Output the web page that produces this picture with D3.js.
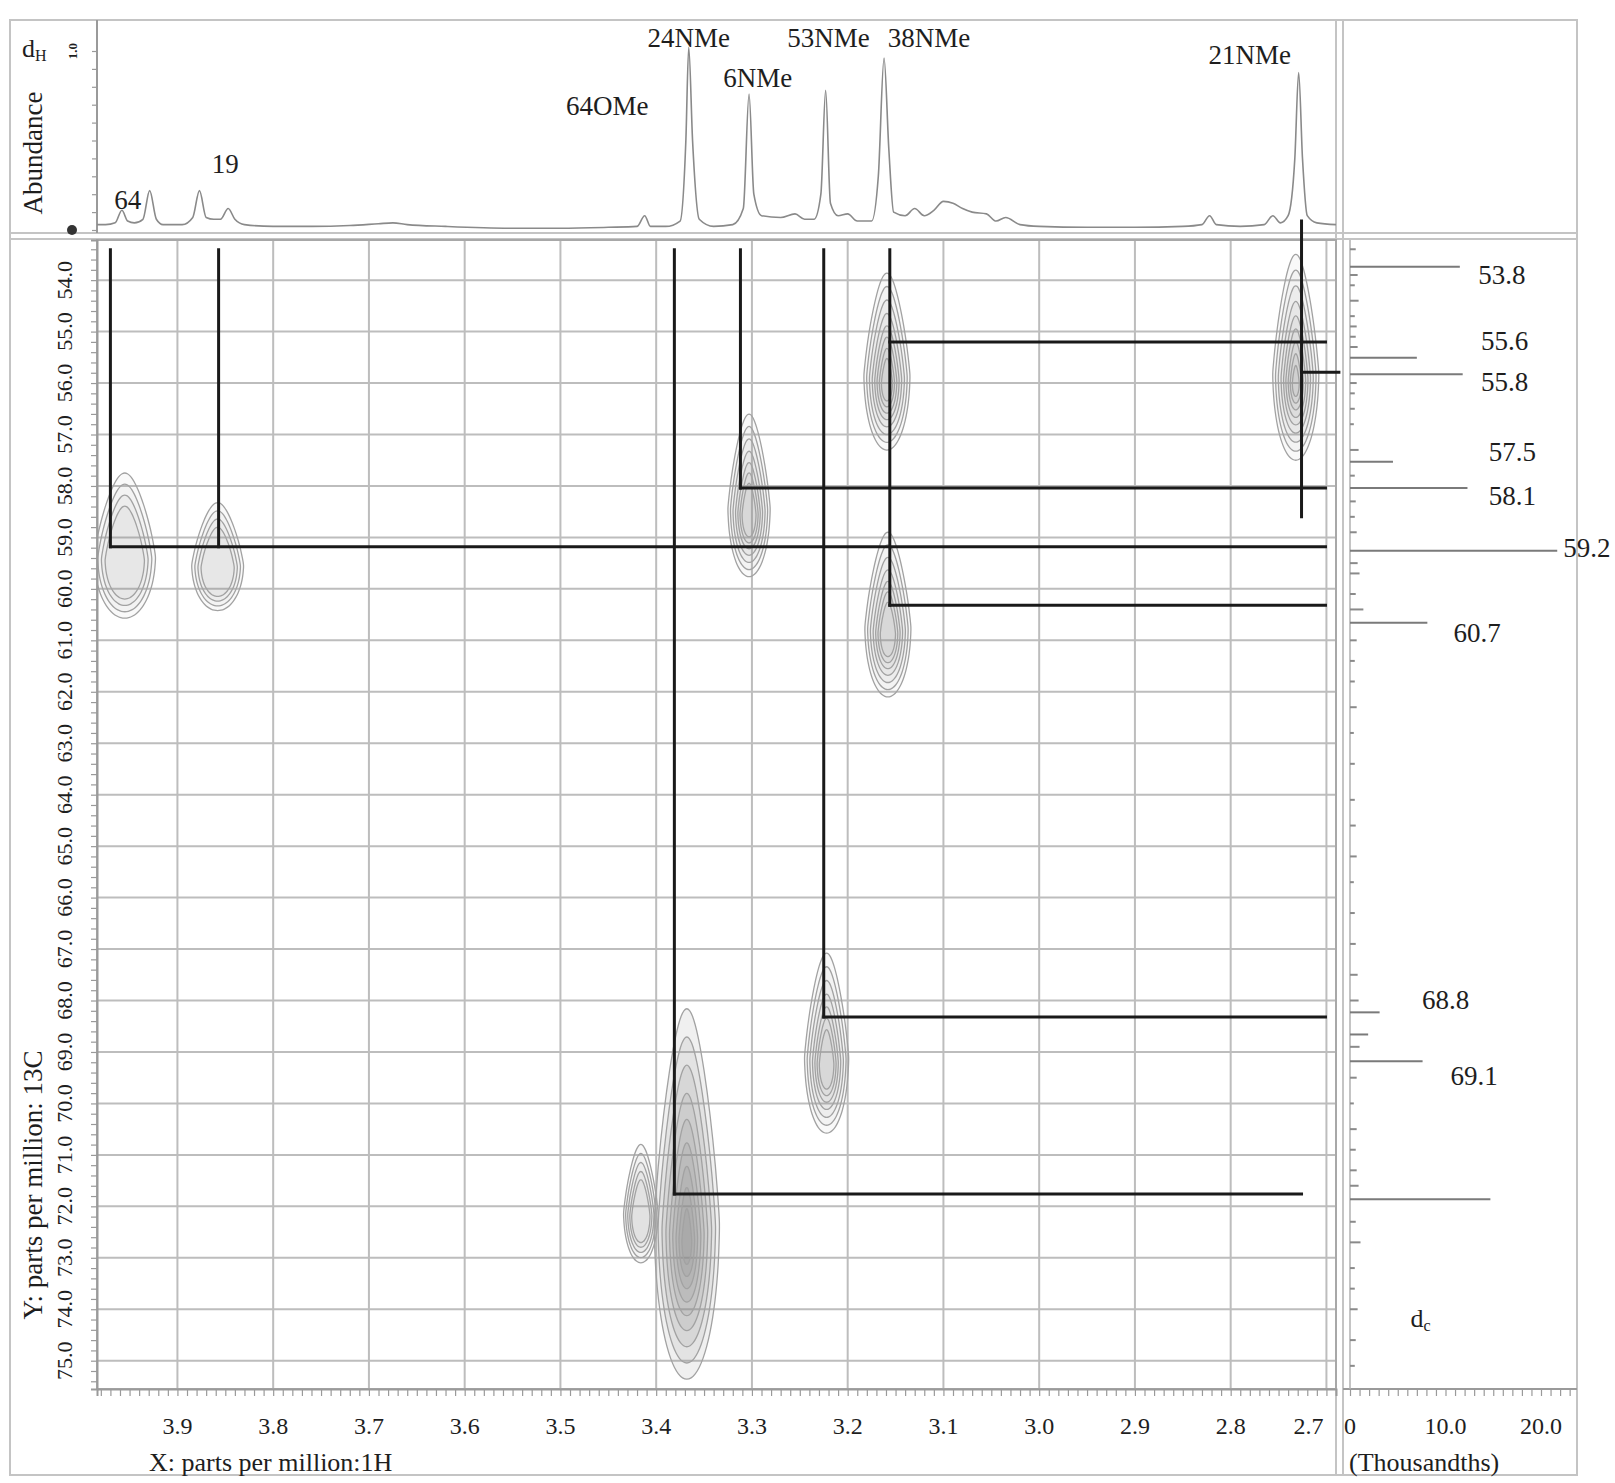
<!DOCTYPE html>
<html>
<head>
<meta charset="utf-8">
<script src="https://cdn.jsdelivr.net/npm/d3@7"></script>
<style>
body { margin: 0; background: #fff; }
text { font-family: "Liberation Serif", "Times New Roman", serif; fill: #1e1e1e; }
</style>
</head>
<body>
<script>
// 1H projection, [ppm, abundance]
const protonTrace = [
	[3.984, 0.03], [3.975, 0.03], [3.965, 0.04], [3.958, 0.11], [3.952, 0.05], [3.945, 0.04],
	[3.936, 0.06], [3.929, 0.22], [3.922, 0.06], [3.915, 0.03], [3.895, 0.03], [3.884, 0.07],
	[3.877, 0.22], [3.870, 0.07], [3.862, 0.06], [3.855, 0.06], [3.847, 0.12], [3.840, 0.06],
	[3.830, 0.03], [3.800, 0.02], [3.760, 0.02], [3.720, 0.025], [3.690, 0.035], [3.675, 0.04],
	[3.660, 0.03], [3.620, 0.02], [3.550, 0.01], [3.500, 0.01], [3.450, 0.015], [3.420, 0.02],
	[3.412, 0.08], [3.406, 0.02], [3.390, 0.02], [3.375, 0.05], [3.369, 0.5], [3.366, 1.02],
	[3.362, 0.5], [3.355, 0.06], [3.340, 0.02], [3.320, 0.03], [3.309, 0.12], [3.303, 0.76],
	[3.298, 0.2], [3.290, 0.08], [3.270, 0.07], [3.255, 0.09], [3.245, 0.06], [3.235, 0.06],
	[3.228, 0.2], [3.223, 0.78], [3.218, 0.15], [3.210, 0.08], [3.200, 0.09], [3.190, 0.05],
	[3.175, 0.05], [3.168, 0.3], [3.162, 0.96], [3.157, 0.45], [3.152, 0.1], [3.140, 0.08],
	[3.130, 0.12], [3.120, 0.08], [3.110, 0.11], [3.100, 0.16], [3.090, 0.15], [3.080, 0.12],
	[3.070, 0.1], [3.055, 0.09], [3.045, 0.05], [3.035, 0.07], [3.020, 0.03], [3.000, 0.02],
	[2.950, 0.015], [2.900, 0.015], [2.850, 0.02], [2.830, 0.03], [2.822, 0.08], [2.815, 0.03],
	[2.790, 0.02], [2.765, 0.03], [2.756, 0.08], [2.748, 0.04], [2.740, 0.08], [2.733, 0.4],
	[2.729, 0.88], [2.725, 0.4], [2.720, 0.08], [2.710, 0.04], [2.690, 0.03]
]
// [text, ppm, abundance at text baseline]
const protonLabels = [
	['64', 3.952, 0.12], ['19', 3.850, 0.32], ['64OMe', 3.451, 0.64], ['24NMe', 3.366, 1.02],
	['6NMe', 3.294, 0.80], ['53NMe', 3.220, 1.02], ['38NMe', 3.115, 1.02], ['21NMe', 2.780, 0.93]
]

const xTicks = [3.9, 3.8, 3.7, 3.6, 3.5, 3.4, 3.3, 3.2, 3.1, 3.0, 2.9, 2.8, 2.7]
const yTicks = [54, 55, 56, 57, 58, 59, 60, 61, 62, 63, 64, 65, 66, 67, 68, 69, 70, 71, 72, 73, 74, 75]
const carbonTicks = [0, 10, 20]

// 13C projection, [ppm, thousandths]
const carbonPeaks = [
	[53.74, 11.5], [55.51, 7.0], [55.83, 11.8], [57.53, 4.5], [58.04, 12.3], [59.26, 21.7],
	[60.66, 8.1], [68.23, 3.1], [68.66, 1.9], [69.18, 7.6], [71.86, 14.7]
]
const carbonNoise = [
	[53.4, 0.6], [53.9, 0.8], [54.1, 0.5], [54.4, 0.9], [54.7, 0.5], [54.9, 0.7], [55.1, 0.6],
	[55.3, 0.8], [56.0, 0.7], [56.2, 0.5], [56.5, 0.5], [56.8, 0.4], [57.3, 0.9], [57.8, 0.5],
	[58.3, 0.6], [58.6, 0.5], [58.9, 0.7], [59.5, 0.8], [59.7, 1.0], [60.1, 0.6], [60.4, 1.4],
	[61.0, 0.7], [61.4, 0.5], [61.8, 0.5], [62.3, 0.7], [62.8, 0.4], [63.4, 0.5], [64.1, 0.5],
	[64.6, 0.6], [65.2, 0.7], [65.7, 0.4], [66.3, 0.5], [66.9, 0.6], [67.5, 0.8], [68.0, 0.9],
	[68.9, 1.0], [69.5, 0.7], [70.0, 0.4], [70.5, 0.7], [70.9, 0.6], [71.3, 0.7], [71.6, 0.9],
	[72.3, 0.6], [72.7, 1.1], [73.2, 0.5], [73.6, 0.5], [74.0, 0.8], [74.6, 0.6], [75.1, 0.5]
]
// [text, thousandths, ppm] label centres
const carbonLabels = [
	['53.8', 15.9, 53.90], ['55.6', 16.2, 55.17], ['55.8', 16.2, 55.98], ['57.5', 17.0, 57.34],
	['58.1', 17.0, 58.18], ['59.2', 24.8, 59.19], ['60.7', 13.3, 60.84], ['68.8', 10.0, 67.99],
	['69.1', 13.0, 69.45]
]

// HSQC cross peaks: 1H ppm, 13C ppm, half widths in ppm, contour count
const crossPeaks = [
	{ name: '64', h: 3.955, c: 59.37, rx: 0.032, ry: 1.41, n: 4 },
	{ name: '19', h: 3.858, c: 59.53, rx: 0.027, ry: 1.05, n: 4 },
	{ name: '6NMe', h: 3.303, c: 58.42, rx: 0.022, ry: 1.58, n: 7 },
	{ name: '38NMe a', h: 3.159, c: 55.84, rx: 0.024, ry: 1.72, n: 8 },
	{ name: '38NMe b', h: 3.158, c: 60.74, rx: 0.024, ry: 1.60, n: 7 },
	{ name: '21NMe', h: 2.732, c: 55.80, rx: 0.024, ry: 2.00, n: 9 },
	{ name: '53NMe', h: 3.222, c: 69.09, rx: 0.023, ry: 1.75, n: 7 },
	{ name: '24NMe', h: 3.368, c: 72.30, rx: 0.034, ry: 3.60, n: 9 },
	{ name: '64OMe', h: 3.416, c: 72.12, rx: 0.018, ry: 1.15, n: 5 }
]
const contourLevels = [1, 0.88, 0.76, 0.64, 0.53, 0.43, 0.33, 0.24, 0.15]

// assignment lines: vertical [h, c from, c to], horizontal [c, h from, h to]
const vLines = [
	[3.970, 53.41, 59.18], [3.857, 53.41, 59.18], [3.381, 53.41, 71.76], [3.312, 53.41, 58.04],
	[3.225, 53.41, 68.32], [3.156, 53.41, 60.32], [2.726, 52.85, 58.60]
]
const hLines = [
	[59.18, 3.970, 2.701], [71.76, 3.381, 2.726], [58.04, 3.312, 2.701], [68.32, 3.225, 2.701],
	[60.32, 3.156, 2.701], [55.20, 3.156, 2.701], [55.79, 2.726, 2.687]
]

const W = 1615, H = 1483
const plot = { left: 97, right: 1336, top: 240, bottom: 1389 }

const x = d3.scaleLinear().domain([3.984, 2.69]).range([plot.left, plot.right])
const y = d3.scaleLinear().domain([53.22, 75.55]).range([plot.top, plot.bottom])
const abund = d3.scaleLinear().domain([0, 1]).range([230, 51])
const cx = d3.scaleLinear().domain([0, 20]).range([1350, 1541])

const svg = d3.select('body').append('svg')
	.attr('width', W)
	.attr('height', H)

svg.append('rect').attr('width', W).attr('height', H).attr('fill', '#fff')

// frame
const frame = svg.append('g').attr('stroke', '#c4c4c4').attr('stroke-width', 2).attr('fill', 'none')
frame.append('rect').attr('x', 10).attr('y', 20).attr('width', 1567).attr('height', 1455)
frame.append('line').attr('x1', 10).attr('x2', 1577).attr('y1', 233).attr('y2', 233)
frame.append('line').attr('x1', 10).attr('x2', 1577).attr('y1', 239).attr('y2', 239)
frame.append('line').attr('x1', plot.right).attr('x2', plot.right).attr('y1', 20).attr('y2', 1475)
frame.append('line').attr('x1', 1343).attr('x2', 1343).attr('y1', 20).attr('y2', 1475)

// grid
const grid = svg.append('g').attr('stroke', '#bdbdbd').attr('stroke-width', 2)
grid.selectAll('.gx').data(xTicks).enter().append('line')
	.attr('x1', d => x(d)).attr('x2', d => x(d))
	.attr('y1', plot.top).attr('y2', plot.bottom)
grid.selectAll('.gy').data(yTicks).enter().append('line')
	.attr('x1', plot.left).attr('x2', plot.right)
	.attr('y1', d => y(d)).attr('y2', d => y(d))

// contours
svg.append('clipPath').attr('id', 'clip').append('rect')
	.attr('x', plot.left).attr('y', plot.top)
	.attr('width', plot.right - plot.left).attr('height', plot.bottom - plot.top)

const ring = d3.line().curve(d3.curveCardinalClosed)
const dropPath = (p, f) => {
	const X = x(p.h)
	const rxPx = Math.abs(x(p.h + p.rx) - X)
	const ryPx = y(p.c + p.ry) - y(p.c)
	const Y = y(p.c) + ryPx * (1 - f) * 0.12
	const pts = d3.range(48).map(i => {
		const t = i / 48 * 2 * Math.PI
		const up = Math.cos(t) > 0
		const narrow = up ? 1 - 0.35 * Math.cos(t) : 1
		return [X + rxPx * f * Math.sin(t) * narrow, Y - ryPx * f * Math.cos(t) * (up ? 1.15 : 0.85)]
	})
	return ring(pts)
}

const cont = svg.append('g').attr('clip-path', 'url(#clip)')
crossPeaks.forEach(p => {
	const dark = p.name === '24NMe'
	cont.selectAll(null).data(contourLevels.slice(0, p.n)).enter().append('path')
		.attr('d', f => dropPath(p, f))
		.attr('fill', '#8c8c8c')
		.attr('fill-opacity', dark ? 0.13 : 0.05)
		.attr('stroke', '#a2a2a2')
		.attr('stroke-width', 1.3)
})

// plot border
svg.append('rect')
	.attr('x', plot.left).attr('y', plot.top)
	.attr('width', plot.right - plot.left).attr('height', plot.bottom - plot.top)
	.attr('fill', 'none').attr('stroke', '#a8a8a8').attr('stroke-width', 2)

// minor ticks
const axisStyle = g => {
	g.select('.domain').attr('stroke', '#9a9a9a').attr('stroke-width', 2)
	g.selectAll('.tick line').attr('stroke', '#9a9a9a').attr('stroke-width', 1.2)
}
svg.append('g').attr('transform', `translate(${plot.left},0)`)
	.call(d3.axisLeft(y).tickValues(d3.range(53.4, 75.5, 0.2)).tickSize(6).tickFormat(''))
	.call(axisStyle)
svg.append('g').attr('transform', `translate(0,${plot.bottom})`)
	.call(d3.axisBottom(x).tickValues(d3.range(2.70, 3.985, 0.01)).tickSize(7).tickFormat(''))
	.call(axisStyle)
svg.append('g').attr('transform', `translate(${plot.left},0)`)
	.call(d3.axisLeft(abund).tickValues(d3.range(0, 1.05, 0.1)).tickSize(5).tickFormat(''))
	.call(axisStyle)
	.select('.domain').attr('d', 'M0,20V233')
svg.append('g').attr('transform', `translate(0,${plot.bottom})`)
	.call(d3.axisBottom(cx).tickValues(d3.range(0, 24, 1)).tickSize(7).tickFormat(''))
	.call(axisStyle)
	.select('.domain').attr('d', 'M1343,0H1577')

// tick labels
svg.append('g').selectAll('text').data(xTicks).enter().append('text')
	.attr('x', (d, i) => x(d) + (i === xTicks.length - 1 ? -18 : 0))
	.attr('y', 1434)
	.attr('text-anchor', 'middle')
	.attr('font-size', 24)
	.text(d => d.toFixed(1))
svg.append('g').selectAll('text').data(yTicks).enter().append('text')
	.attr('transform', d => `translate(72,${y(d)}) rotate(-90)`)
	.attr('text-anchor', 'middle')
	.attr('font-size', 22)
	.text(d => d.toFixed(1))
svg.append('g').selectAll('text').data(carbonTicks).enter().append('text')
	.attr('x', d => cx(d))
	.attr('y', 1434)
	.attr('text-anchor', 'middle')
	.attr('font-size', 24)
	.text(d => d === 0 ? '0' : d.toFixed(1))

// axis titles
svg.append('text').attr('x', 149).attr('y', 1471).attr('font-size', 26)
	.text('X: parts per million:1H')
svg.append('text').attr('x', 1349).attr('y', 1471).attr('font-size', 26)
	.text('(Thousandths)')
svg.append('text').attr('transform', 'translate(42,1185) rotate(-90)')
	.attr('text-anchor', 'middle').attr('font-size', 27)
	.text('Y: parts per million: 13C')
svg.append('text').attr('transform', 'translate(42,153) rotate(-90)')
	.attr('text-anchor', 'middle').attr('font-size', 27)
	.text('Abundance')
const dH = svg.append('text').attr('x', 22).attr('y', 57).attr('font-size', 26)
dH.append('tspan').text('d')
dH.append('tspan').attr('font-size', 16).attr('dy', 4).text('H')
svg.append('text').attr('transform', `translate(77,${abund(1)}) rotate(-90)`)
	.attr('text-anchor', 'middle').attr('font-size', 13).attr('font-weight', 'bold')
	.text('1.0')
svg.append('circle').attr('cx', 72).attr('cy', abund(0)).attr('r', 5).attr('fill', '#333')

// 1H trace
svg.append('path')
	.datum(protonTrace)
	.attr('d', d3.line().x(d => x(d[0])).y(d => abund(d[1])).curve(d3.curveMonotoneX))
	.attr('fill', 'none')
	.attr('stroke', '#8a8a8a')
	.attr('stroke-width', 1.6)

svg.append('g').selectAll('text').data(protonLabels).enter().append('text')
	.attr('x', d => x(d[1]))
	.attr('y', d => abund(d[2]))
	.attr('text-anchor', 'middle')
	.attr('font-size', 27)
	.text(d => d[0])

// 13C trace
svg.append('line').attr('x1', cx(0)).attr('x2', cx(0)).attr('y1', plot.top).attr('y2', plot.bottom)
	.attr('stroke', '#b0b0b0').attr('stroke-width', 1.5)
svg.append('g').selectAll('line').data(carbonNoise).enter().append('line')
	.attr('x1', cx(0)).attr('x2', d => cx(d[1]))
	.attr('y1', d => y(d[0])).attr('y2', d => y(d[0]))
	.attr('stroke', '#8a8a8a').attr('stroke-width', 2)
svg.append('g').selectAll('line').data(carbonPeaks).enter().append('line')
	.attr('x1', cx(0)).attr('x2', d => cx(d[1]))
	.attr('y1', d => y(d[0])).attr('y2', d => y(d[0]))
	.attr('stroke', '#7a7a7a').attr('stroke-width', 2)

svg.append('g').selectAll('text').data(carbonLabels).enter().append('text')
	.attr('x', d => cx(d[1]))
	.attr('y', d => y(d[2]))
	.attr('dy', '0.35em')
	.attr('text-anchor', 'middle')
	.attr('font-size', 27)
	.text(d => d[0])
const dC = svg.append('text').attr('x', cx(7.4)).attr('y', y(74.17)).attr('dy', '0.35em')
	.attr('text-anchor', 'middle').attr('font-size', 26)
dC.append('tspan').text('d')
dC.append('tspan').attr('font-size', 16).attr('dy', 4).text('c')

// assignment lines
const assign = svg.append('g').attr('stroke', '#1a1a1a').attr('stroke-width', 3).attr('stroke-linecap', 'square')
assign.selectAll('.v').data(vLines).enter().append('line')
	.attr('x1', d => x(d[0])).attr('x2', d => x(d[0]))
	.attr('y1', d => y(d[1])).attr('y2', d => y(d[2]))
assign.selectAll('.h').data(hLines).enter().append('line')
	.attr('x1', d => x(d[1])).attr('x2', d => x(d[2]))
	.attr('y1', d => y(d[0])).attr('y2', d => y(d[0]))
</script>
</body>
</html>
